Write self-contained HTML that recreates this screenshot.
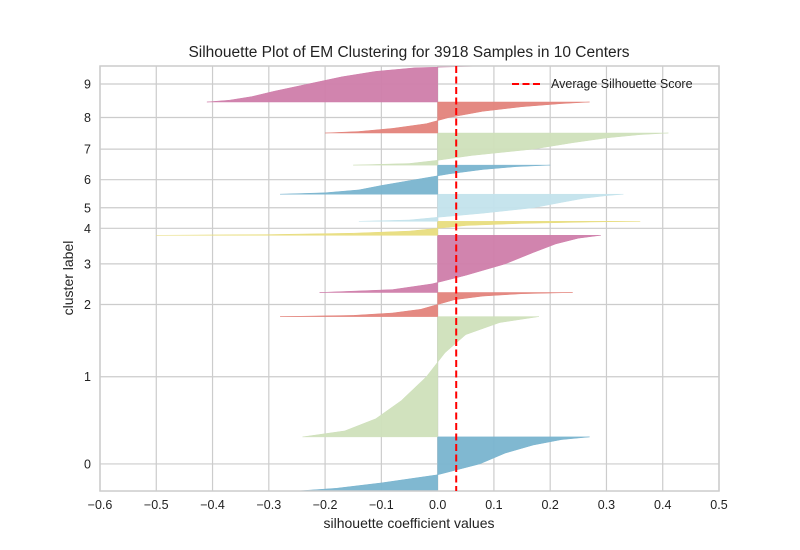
<!DOCTYPE html>
<html><head><meta charset="utf-8"><style>
body{margin:0;background:#fff;}
svg{display:block;font-family:"Liberation Sans","DejaVu Sans",sans-serif;}
</style></head><body>
<svg id="chart" width="800" height="550"></svg>
<script>
const clusterLabels = ["0","1","2","3","4","5","6","7","8","9"];
const clusterSizes = [499,1109,222,527,129,250,268,296,286,332];
const profileFractions = [0,0.05,0.15,0.3,0.5,0.7,0.85,0.95,1];
const v0 = [-0.25,-0.18,-0.10,0.0,0.075,0.12,0.17,0.22,0.27];
const v1 = [-0.24,-0.165,-0.11,-0.065,-0.02,0.013,0.05,0.11,0.18];
const v2 = [-0.28,-0.15,-0.08,-0.03,0.0,0.03,0.08,0.15,0.24];
const v3 = [-0.21,-0.08,-0.01,0.05,0.12,0.17,0.21,0.25,0.29];
const v4 = [-0.5,-0.3,-0.15,-0.05,0.0,0.05,0.15,0.27,0.36];
const v5 = [-0.14,-0.05,0.0,0.08,0.17,0.22,0.26,0.3,0.33];
const v6 = [-0.28,-0.2,-0.14,-0.1,-0.04,0.02,0.08,0.14,0.2];
const v7 = [-0.15,-0.05,0.0,0.06,0.17,0.24,0.3,0.36,0.41];
const v8 = [-0.2,-0.14,-0.08,-0.02,0.02,0.08,0.15,0.22,0.27];
const v9 = [-0.41,-0.37,-0.33,-0.29,-0.23,-0.17,-0.11,-0.04,0.08];
const clusterValues = [v0,v1,v2,v3,v4,v5,v6,v7,v8,v9];
const avgScore = 0.033;
const xTicks = [-0.6,-0.5,-0.4,-0.3,-0.2,-0.1,0.0,0.1,0.2,0.3,0.4,0.5];
const xTickLabels = ["−0.6","−0.5","−0.4","−0.3","−0.2","−0.1","0.0","0.1","0.2","0.3","0.4","0.5"];

const colors = ["#79b4cf","#cfe0bb","#e3837b","#cf7daa","#e8dd7e","#c3e3ec","#79b4cf","#cfe0bb","#e3837b","#cf7daa"];
const L=100,R=719,T=66,B=491;
const total = clusterSizes.reduce((a,b)=>a+b,0);
const xs = v => L + (v-(-0.6))/(1.1)*(R-L);
const ys = c => B - c/total*(B-T);
const NS="http://www.w3.org/2000/svg";
const svg=document.getElementById('chart');
function mk(tag,attrs,parent){const e=document.createElementNS(NS,tag);for(const k in attrs)e.setAttribute(k,attrs[k]);(parent||svg).appendChild(e);return e;}

const grid=mk('g',{});


xTicks.forEach((t,i)=>{
  const l=mk('line',{x1:xs(t),x2:xs(t),y1:T,y2:B,stroke:'#cccccc','stroke-width':1.2},grid);
  
  
  const tx=mk('text',{x:xs(t),y:509,'text-anchor':'middle','font-size':12.5,fill:'#222'});
  tx.textContent=xTickLabels[i];
  
  
});
let cum=0;
const mids=[];
clusterSizes.forEach((s,i)=>{mids.push(cum+s/2);cum+=s;});
mids.forEach((m,i)=>{
  const y=ys(m);
  const l=mk('line',{x1:L,x2:R,y1:y,y2:y,stroke:'#cccccc','stroke-width':1.2},grid);
  
  
  const tx=mk('text',{x:91,y:y+4.5,'text-anchor':'end','font-size':12.5,fill:'#222'});
  tx.textContent=clusterLabels[i];
  
  
});

cum=0;
clusterSizes.forEach((s,i)=>{
  const vals=clusterValues[i];
  let d='M'+xs(0)+','+ys(cum);
  profileFractions.forEach((f,j)=>{d+=' L'+xs(vals[j]).toFixed(1)+','+ys(cum+f*s).toFixed(1);});
  d+=' L'+xs(0)+','+ys(cum+s)+' Z';
  const p=mk('path',{d:d,fill:colors[i],stroke:colors[i],'stroke-width':0.5,'fill-opacity':0.95});
  
  
  cum+=s;
});

const fr=mk('rect',{x:L,y:T,width:R-L,height:B-T,fill:'none',stroke:'#cccccc','stroke-width':1.5});



const av=mk('line',{x1:xs(avgScore),x2:xs(avgScore),y1:T,y2:B,stroke:'#ff0000','stroke-width':2,'stroke-dasharray':'7,3.5'});



const lg=mk('g',{});


const ll=mk('line',{x1:512,x2:541,y1:84,y2:84,stroke:'#ff0000','stroke-width':2,'stroke-dasharray':'7,3.5'},lg);


const lt=mk('text',{x:551,y:88,'font-size':12.5,fill:'#222'},lg);
lt.textContent='Average Silhouette Score';



const ti=mk('text',{x:409,y:57,'text-anchor':'middle','font-size':15.5,fill:'#222'});
ti.textContent='Silhouette Plot of EM Clustering for 3918 Samples in 10 Centers';


const xl=mk('text',{x:409,y:528,'text-anchor':'middle','font-size':14,fill:'#222'});
xl.textContent='silhouette coefficient values';


const yl=mk('text',{x:0,y:0,'text-anchor':'middle','font-size':14,fill:'#222',transform:'translate(73,278) rotate(-90)'});
yl.textContent='cluster label';


</script>
</body></html>
